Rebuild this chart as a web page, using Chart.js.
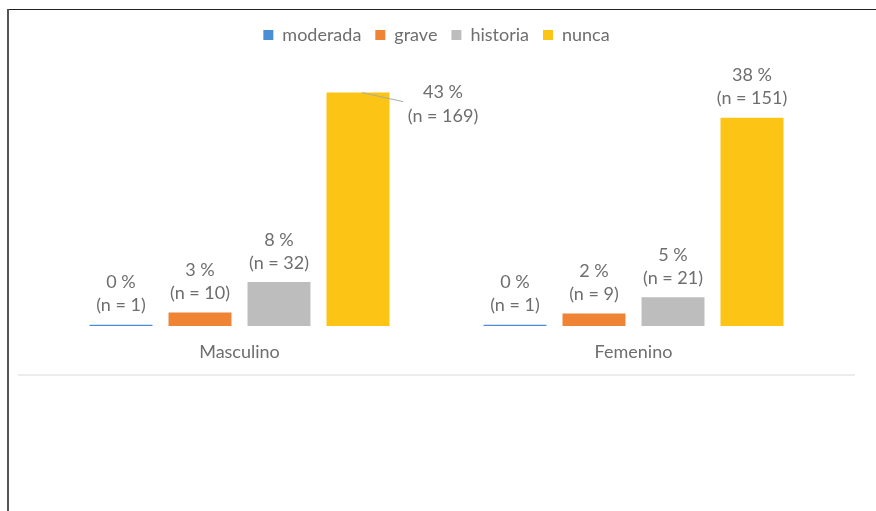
<!DOCTYPE html>
<html>
<head>
<meta charset="utf-8">
<script src="https://cdn.jsdelivr.net/npm/chart.js@4"></script>
<style>
  html, body { margin: 0; padding: 0; background: #fff; }
  body { width: 876px; height: 511px; position: relative; overflow: hidden; }
  .frame-top { position: absolute; left: 7px; top: 9px; width: 869px; height: 1px; background: #222; }
  .frame-left { position: absolute; left: 7px; top: 9px; width: 2px; height: 502px; background: #555; }
  .chart-box { position: absolute; left: 18px; top: 2px; width: 837px; height: 372px; border-bottom: 2px solid #ececec; }
</style>
</head>
<body>
<div class="frame-top"></div>
<div class="frame-left"></div>
<div class="chart-box"><canvas id="chart"></canvas></div>
<script>
const categories = ["Masculino", "Femenino"];
const seriesNames = ["moderada", "grave", "historia", "nunca"];
// percentage of all respondents (n total = 394)
const moderadaPct = [0.25, 0.25];
const gravePct = [2.5, 2.3];
const historiaPct = [8.1, 5.3];
const nuncaPct = [42.9, 38.3];
// counts shown in the labels
const moderadaN = [1, 1];
const graveN = [10, 9];
const historiaN = [32, 21];
const nuncaN = [169, 151];

const colors = ["#4a8fd6", "#ee8434", "#bdbdbd", "#fcc414"];
const textColor = "#6e6e6e";
const fontFamily = "Lato, 'Open Sans', sans-serif";

const pctSeries = [moderadaPct, gravePct, historiaPct, nuncaPct];
const nSeries = [moderadaN, graveN, historiaN, nuncaN];

// bar labels: "x %" over "(n = y)", one callout to the side for the tallest bar
const barLabels = {
  id: "barLabels",
  afterDatasetsDraw(chart) {
    const ctx = chart.ctx;
    ctx.save();
    ctx.font = "18px " + fontFamily;
    ctx.fillStyle = textColor;
    ctx.textAlign = "center";
    ctx.textBaseline = "middle";
    chart.data.datasets.forEach((ds, di) => {
      const meta = chart.getDatasetMeta(di);
      meta.data.forEach((bar, i) => {
        const pct = Math.round(ds.data[i]) + " %";
        const n = "(n = " + nSeries[di][i] + ")";
        if (di === 3 && i === 0) {
          ctx.strokeStyle = "#a9a9a9";
          ctx.lineWidth = 1;
          ctx.beginPath();
          ctx.moveTo(bar.x + 4, bar.y);
          ctx.lineTo(bar.x + 45, bar.y + 9);
          ctx.stroke();
          ctx.fillText(pct, bar.x + 85, bar.y);
          ctx.fillText(n, bar.x + 85, bar.y + 24);
        } else {
          ctx.fillText(pct, bar.x, bar.y - 42);
          ctx.fillText(n, bar.x, bar.y - 19);
        }
      });
    });
    ctx.restore();
  }
};

new Chart(document.getElementById("chart"), {
  type: "bar",
  data: {
    labels: categories,
    datasets: seriesNames.map((name, i) => ({
      label: name,
      data: pctSeries[i],
      backgroundColor: colors[i],
      borderWidth: 0,
      categoryPercentage: 0.802,
      barPercentage: 0.797
    }))
  },
  options: {
    responsive: true,
    maintainAspectRatio: false,
    animation: false,
    layout: { padding: { top: 10, bottom: 0, left: 24.5, right: 24.5 } },
    plugins: {
      legend: {
        position: "top",
        labels: {
          font: { size: 18, family: fontFamily },
          color: textColor,
          boxWidth: 10,
          boxHeight: 10,
          padding: 14
        }
      },
      tooltip: { enabled: false }
    },
    scales: {
      x: {
        grid: { display: false, tickLength: 4 },
        border: { display: false },
        ticks: { color: textColor, font: { size: 18, family: fontFamily }, padding: 11.2 }
      },
      y: {
        display: false,
        min: 0,
        max: 50
      }
    }
  },
  plugins: [barLabels]
});
</script>
</body>
</html>
